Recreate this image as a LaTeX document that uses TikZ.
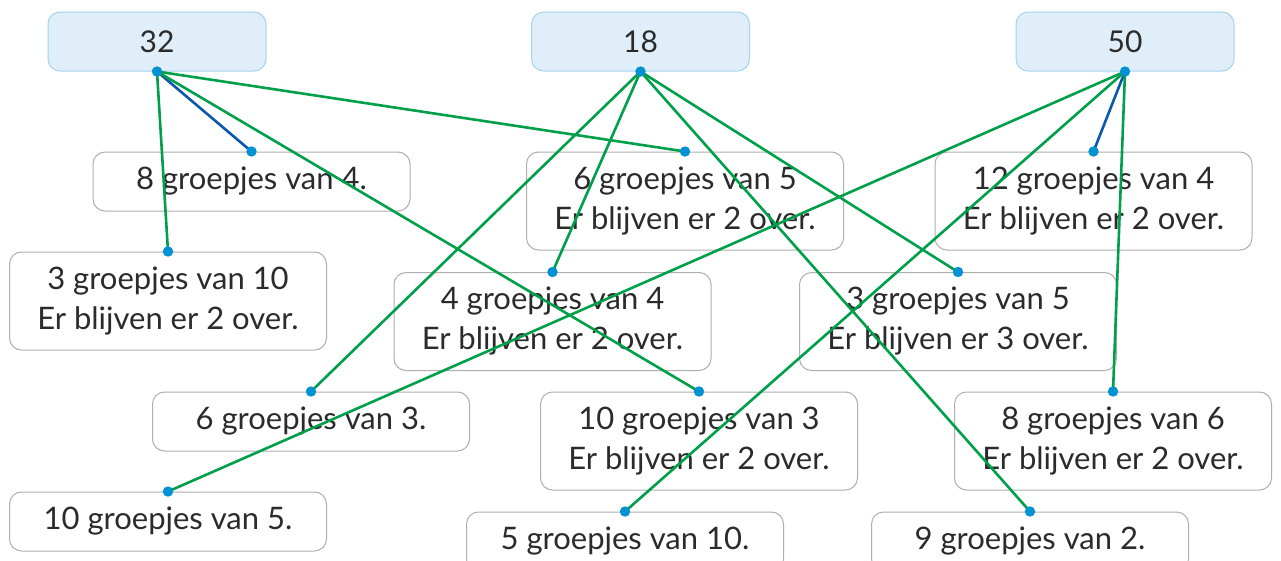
\documentclass[tikz,border=0pt]{standalone}
\usepackage{fontspec}
\setmainfont{Lato}
\definecolor{boxgray}{HTML}{AFAFAF}
\definecolor{numborder}{HTML}{A6D3EE}
\definecolor{numfill}{HTML}{DFEEF8}
\definecolor{txt}{HTML}{2B2B2B}
\definecolor{linegreen}{HTML}{00A04A}
\definecolor{lineblue}{HTML}{0A58AD}
\definecolor{dotblue}{HTML}{0092D2}
\begin{document}
\begin{tikzpicture}[x=1pt,y=-1pt,
  ans/.style={draw=boxgray, line width=1pt, rounded corners=12pt, fill=white, minimum width=317pt, inner sep=0pt, align=center, text=txt, font=\fontsize{31}{40}\selectfont},
  one/.style={ans, minimum height=59pt},
  two/.style={ans, minimum height=98pt},
  num/.style={draw=numborder, fill=numfill, line width=1pt, rounded corners=12pt, minimum width=218pt, minimum height=59pt, inner sep=0pt, text=txt, font=\fontsize{30}{36}\selectfont},
  ok/.style={draw=lineblue, line width=2.6pt},
  link/.style={draw=linegreen, line width=2.6pt},
  dot/.style={fill=dotblue}
]
\useasboundingbox (0,0) rectangle (1281,560);
\clip (0,0) rectangle (1281,560);
\fill[white] (0,0) rectangle (1281,560);

% top numbers
\node[num] (n32) at (157,41.5) {32};
\node[num] (n18) at (640.5,41.5) {18};
\node[num] (n50) at (1125,41.5) {50};

% answer boxes
\node[one] (a) at (251.5,181.5) {8 groepjes van 4.};
\node[two] (b) at (685,201) {6 groepjes van 5\\Er blijven er 2 over.};
\node[two] (c) at (1093.5,201) {12 groepjes van 4\\Er blijven er 2 over.};
\node[two] (d) at (168,301) {3 groepjes van 10\\Er blijven er 2 over.};
\node[two] (e) at (552.5,321.5) {4 groepjes van 4\\Er blijven er 2 over.};
\node[two] (f) at (958,321.5) {3 groepjes van 5\\Er blijven er 3 over.};
\node[one] (g) at (311,421.5) {6 groepjes van 3.};
\node[two] (h) at (699,441) {10 groepjes van 3\\Er blijven er 2 over.};
\node[two] (i) at (1113,441) {8 groepjes van 6\\Er blijven er 2 over.};
\node[one] (j) at (168,521.5) {10 groepjes van 5.};
\node[one] (k) at (625,541.5) {5 groepjes van 10.};
\node[one] (l) at (1030,541.5) {9 groepjes van 2.};

% connectors from 32
\draw[ok] (n32.south) -- (a.north);
\draw[link] (n32.south) -- (d.north);
\draw[link] (n32.south) -- (b.north);
\draw[link] (n32.south) -- (h.north);
% connectors from 18
\draw[link] (n18.south) -- (g.north);
\draw[link] (n18.south) -- (e.north);
\draw[link] (n18.south) -- (f.north);
\draw[link] (n18.south) -- (l.north);
% connectors from 50
\draw[ok] (n50.south) -- (c.north);
\draw[link] (n50.south) -- (j.north);
\draw[link] (n50.south) -- (k.north);
\draw[link] (n50.south) -- (i.north);

% dots
\foreach \p in {n32.south,n18.south,n50.south,a.north,b.north,c.north,d.north,e.north,f.north,g.north,h.north,i.north,j.north,k.north,l.north}
  \fill[dot] (\p) circle (5.2pt);
\end{tikzpicture}
\end{document}
